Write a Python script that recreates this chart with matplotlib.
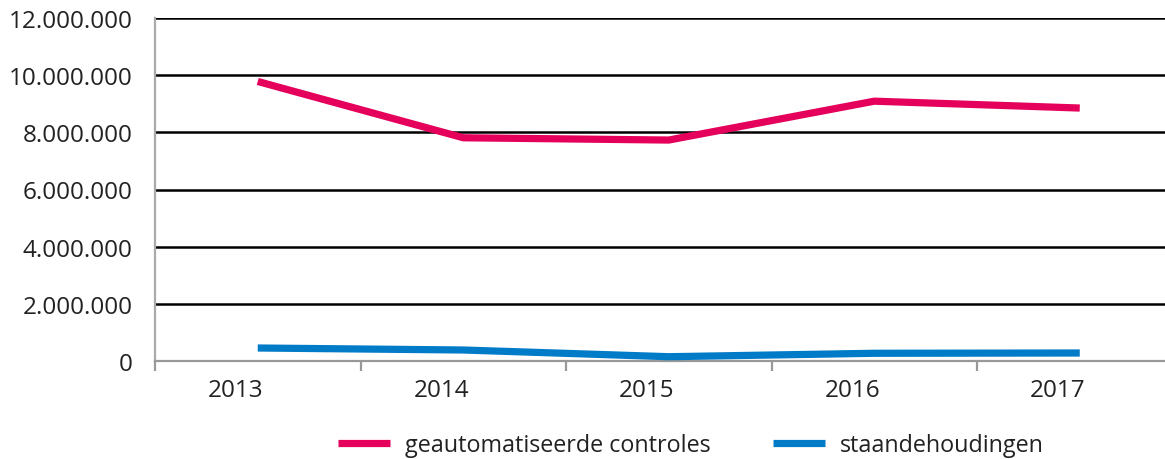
import matplotlib.pyplot as plt
import matplotlib.transforms as mtransforms
from matplotlib.ticker import FuncFormatter, FixedLocator

plt.rcParams['font.family'] = ['Open Sans', 'DejaVu Sans']

years = ['2013', '2014', '2015', '2016', '2017']
controles = [9780000, 7810000, 7730000, 9090000, 8850000]
staandehoudingen = [455000, 385000, 150000, 270000, 280000]

PINK = '#e4005b'
BLUE = '#007bc7'
TEXT = '#222222'


def dotted(v, pos):
    return f'{int(v):,}'.replace(',', '.')


fig = plt.figure(figsize=(11.65, 4.6), dpi=100)
ax = fig.add_axes([155 / 1165, 98 / 460, 1027.5 / 1165, 343 / 460])

x = range(len(years))
ax.plot(x, controles, color=PINK, lw=5.2, solid_capstyle='butt',
        solid_joinstyle='miter', label='geautomatiseerde controles', zorder=3)
ax.plot(x, staandehoudingen, color=BLUE, lw=5.2, solid_capstyle='butt',
        solid_joinstyle='miter', label='staandehoudingen', zorder=3)

ax.set_xlim(-0.5, 4.5)
ax.set_ylim(0, 12000000)
ax.set_yticks(range(0, 12000001, 2000000))
ax.yaxis.set_major_formatter(FuncFormatter(dotted))
for y in range(2000000, 12000001, 2000000):
    ax.axhline(y, color='black', lw=1.8, zorder=1)

ax.set_xticks(list(x))
ax.set_xticklabels(years)
ax.xaxis.set_minor_locator(FixedLocator([i - 0.5 for i in range(6)]))
ax.tick_params(axis='x', which='major', length=0, pad=12, labelsize=17.5, labelcolor=TEXT)
ax.tick_params(axis='x', which='minor', length=7, width=1.6, color='#999999', direction='out')
ax.tick_params(axis='y', length=0, pad=16, labelsize=17.5, labelcolor=TEXT)

# year labels sit a bit left of the category centre
shift = mtransforms.ScaledTranslation(-22 / 100, 0, fig.dpi_scale_trans)
for lab in ax.get_xticklabels():
    lab.set_transform(lab.get_transform() + shift)

for s in ['top', 'right']:
    ax.spines[s].set_visible(False)
ax.spines['left'].set_color('#aaaaaa')
ax.spines['left'].set_linewidth(1.6)
ax.spines['bottom'].set_color('#999999')
ax.spines['bottom'].set_linewidth(1.6)

fig.legend(loc='center', bbox_to_anchor=(691 / 1165, 14 / 460), ncol=2,
           frameon=False, fontsize=16.8, handlelength=2.2, handletextpad=0.65,
           columnspacing=2.7, labelcolor=TEXT)

fig.savefig('out.png', dpi=100)
